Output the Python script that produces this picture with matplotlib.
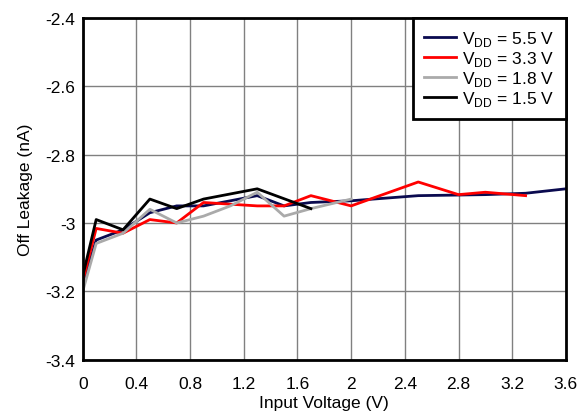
import matplotlib.pyplot as plt

plt.rcParams['font.family'] = ['Liberation Sans', 'DejaVu Sans']

# Input voltage (V) and off leakage (nA) per supply voltage
x_55 = [0, 0.1, 0.3, 0.5, 0.7, 0.9, 1.1, 1.3, 1.5, 1.7, 2.0, 2.5, 3.0, 3.3, 3.6]
y_55 = [-3.18, -3.05, -3.02, -2.97, -2.95, -2.95, -2.935, -2.92, -2.95, -2.94, -2.935, -2.92, -2.917, -2.913, -2.90]

x_33 = [0, 0.1, 0.3, 0.5, 0.7, 0.9, 1.1, 1.3, 1.5, 1.7, 2.0, 2.5, 2.8, 3.0, 3.3]
y_33 = [-3.17, -3.016, -3.03, -2.99, -3.0, -2.94, -2.945, -2.95, -2.95, -2.92, -2.95, -2.88, -2.917, -2.91, -2.92]

x_18 = [0, 0.1, 0.3, 0.5, 0.7, 0.9, 1.1, 1.3, 1.5, 1.7, 2.0]
y_18 = [-3.20, -3.06, -3.03, -2.96, -3.0, -2.98, -2.95, -2.91, -2.98, -2.958, -2.93]

x_15 = [0, 0.1, 0.3, 0.5, 0.7, 0.9, 1.3, 1.7]
y_15 = [-3.155, -2.99, -3.02, -2.93, -2.958, -2.93, -2.90, -2.958]

series = [
    (x_55, y_55, "#0a0a4f", r"V$_{\mathregular{DD}}$ = 5.5 V"),
    (x_33, y_33, "#ff0000", r"V$_{\mathregular{DD}}$ = 3.3 V"),
    (x_18, y_18, "#aaaaaa", r"V$_{\mathregular{DD}}$ = 1.8 V"),
    (x_15, y_15, "#000000", r"V$_{\mathregular{DD}}$ = 1.5 V"),
]

xticks = [0, 0.4, 0.8, 1.2, 1.6, 2.0, 2.4, 2.8, 3.2, 3.6]
xticklabels = ["0", "0.4", "0.8", "1.2", "1.6", "2", "2.4", "2.8", "3.2", "3.6"]
yticks = [-3.4, -3.2, -3.0, -2.8, -2.6, -2.4]
yticklabels = ["-3.4", "-3.2", "-3", "-2.8", "-2.6", "-2.4"]

fig = plt.figure(figsize=(5.87, 4.14), dpi=100)
ax = fig.add_axes([0.141, 0.129, 0.823, 0.825])

for xs, ys, c, lab in series:
    ax.plot(xs, ys, color=c, linewidth=2, label=lab)

ax.set_xlim(0, 3.6)
ax.set_ylim(-3.4, -2.4)
ax.set_xticks(xticks)
ax.set_xticklabels(xticklabels)
ax.set_yticks(yticks)
ax.set_yticklabels(yticklabels)
ax.tick_params(length=0, labelsize=12.5)
ax.tick_params(axis="x", pad=11.5)
ax.tick_params(axis="y", pad=5.5)
ax.grid(True, color="#808080", linewidth=1)
for s in ax.spines.values():
    s.set_linewidth(2)
    s.set_color("black")

ax.set_xlabel("Input Voltage (V)", fontsize=12.5, labelpad=3)
ax.set_ylabel("Off Leakage (nA)", fontsize=12.5, labelpad=9)

leg = ax.legend(loc="upper right", bbox_to_anchor=(1, 1), borderaxespad=0,
                fontsize=12.5, fancybox=False, framealpha=1, edgecolor="black",
                handlelength=1.85, handletextpad=0.35, labelspacing=0.05,
                borderpad=0.65)
leg.get_frame().set_linewidth(2)

fig.savefig("out.png", dpi=100)
